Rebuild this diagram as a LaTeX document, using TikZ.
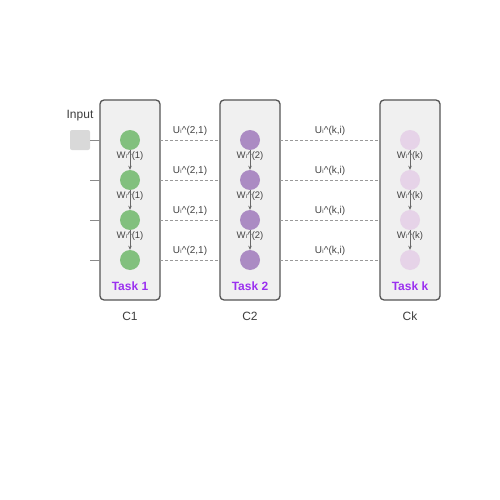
\documentclass[tikz,border=0pt]{standalone}
\usepackage{fontspec}
\setmainfont{Liberation Sans}
\newfontfamily\symfont{DejaVu Sans}
\usetikzlibrary{arrows.meta}
\definecolor{boxfill}{HTML}{F0F0F0}
\definecolor{boxline}{HTML}{555555}
\definecolor{gc}{HTML}{82C07E}
\definecolor{pc}{HTML}{AB8BC3}
\definecolor{lc}{HTML}{E6D3E8}
\definecolor{taskc}{HTML}{9B30F0}
\definecolor{txt}{HTML}{444444}
\definecolor{dashc}{HTML}{999999}
\begin{document}
\begin{tikzpicture}[x=1pt,y=-1pt,
  colbox/.style={draw=boxline,fill=boxfill,line width=1.3pt,rounded corners=4pt,minimum width=60pt,minimum height=200pt,inner sep=0pt},
  neuron/.style={circle,minimum size=20pt,inner sep=0pt},
  wlab/.style={font=\fontsize{9.5}{10}\selectfont,text=txt,inner sep=0pt},
  ulab/.style={font=\fontsize{10}{11}\selectfont,text=txt,inner sep=0pt},
  tasklab/.style={font=\fontsize{12}{13}\selectfont\bfseries,text=taskc},
  clab/.style={font=\fontsize{12}{13}\selectfont,text=txt!90!black},
  warrow/.style={draw=txt!80,line width=0.8pt,-{Stealth[length=4pt,width=3.5pt]}},
  lateral/.style={draw=dashc,line width=1pt,dash pattern=on 3pt off 2pt},
  inline/.style={draw=dashc!90!black,line width=1pt}]
\useasboundingbox (0,0) rectangle (500,500);
% input
\node[clab] (inlab) at (80,116) {Input};
\node[draw=none,fill=black!15,rounded corners=2pt,minimum size=20pt,inner sep=0pt] (inp) at (80,140) {};
% columns
\node[colbox] (b1) at (130,200) {};
\node[colbox] (b2) at (250,200) {};
\node[colbox] (bk) at (410,200) {};
\node[tasklab] (t1) at (130,286) {Task 1};
\node[tasklab] (t2) at (250,286) {Task 2};
\node[tasklab] (tk) at (410,286) {Task k};
\node[clab] (c1) at (130,316) {C1};
\node[clab] (c2) at (250,316) {C2};
\node[clab] (ck) at (410,316) {Ck};
\foreach \i/\y in {1/140,2/180,3/220,4/260}{
  \node[neuron,fill=gc] (a\i) at (130,\y) {};
  \node[neuron,fill=pc] (p\i) at (250,\y) {};
  \node[neuron,fill=lc] (k\i) at (410,\y) {};
  \coordinate (in\i) at (90,\y);
  \coordinate (l\i) at (100,\y);
  \coordinate (r1\i) at (160,\y);
  \coordinate (l2\i) at (220,\y);
  \coordinate (r2\i) at (280,\y);
  \coordinate (lk\i) at (380,\y);
  \draw[inline] (in\i) -- (l\i);
  \draw[lateral] (r1\i) -- (l2\i);
  \draw[lateral] (r2\i) -- (lk\i);
  \node[ulab] (u1\i) at (190,\y-9) {U{\symfont ᵢ}\^{}(2,1)};
  \node[ulab] (u2\i) at (330,\y-9) {U{\symfont ᵢ}\^{}(k,i)};
}
\foreach \i/\j/\y in {1/2/156,2/3/196,3/4/236}{
  \node[wlab] (wa\i) at (130,\y) {W{\symfont ᵢ}\^{}(1)};
  \node[wlab] (wp\i) at (250,\y) {W{\symfont ᵢ}\^{}(2)};
  \node[wlab] (wk\i) at (410,\y) {W{\symfont ᵢ}\^{}(k)};
  \draw[warrow] (a\i) -- (a\j);
  \draw[warrow] (p\i) -- (p\j);
  \draw[warrow] (k\i) -- (k\j);
}
\end{tikzpicture}
\end{document}
